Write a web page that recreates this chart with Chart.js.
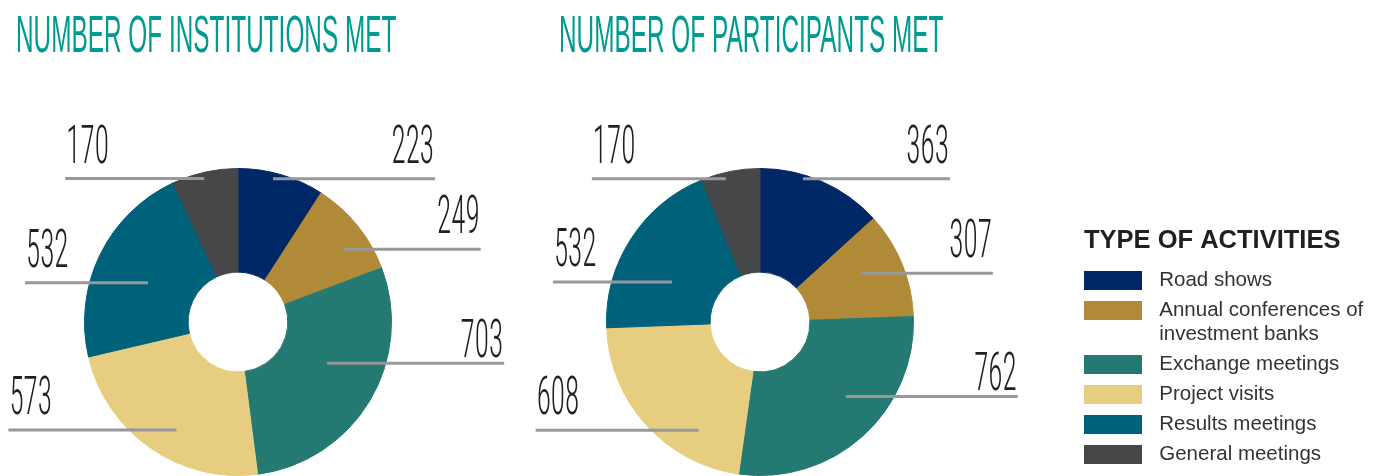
<!DOCTYPE html>
<html><head><meta charset="utf-8">
<script src="https://cdn.jsdelivr.net/npm/chart.js@4.4.1/dist/chart.umd.min.js"></script>
<style>
html,body{margin:0;padding:0;background:#fff;}
body{width:1384px;height:476px;position:relative;overflow:hidden;}
#c1{position:absolute;left:0;top:0;}
#c2{position:absolute;left:442px;top:0;}
</style></head><body>
<canvas id="c1" width="520" height="476"></canvas>
<canvas id="c2" width="942" height="476"></canvas>
<script>
// ---- data ----
const categories = ['Road shows', ['Annual conferences of', 'investment banks'], 'Exchange meetings', 'Project visits', 'Results meetings', 'General meetings'];
const institutionsMet = [223, 249, 703, 573, 532, 170];
const participantsMet = [363, 307, 762, 608, 532, 170];
const chartTitles = ['NUMBER OF INSTITUTIONS MET', 'NUMBER OF PARTICIPANTS MET'];
const legendTitle = 'TYPE OF ACTIVITIES';

// ---- styles ----
const sliceColors = ['#002866', '#b08a36', '#247a73', '#e6cd7f', '#00617a', '#464749'];
const condensedFamily = "'Liberation Sans Narrow', 'Liberation Sans', Arial, sans-serif";
const numberFamily = "'Roboto Condensed', Roboto, 'Liberation Sans Narrow', sans-serif";
const sansFamily = "'Liberation Sans', Arial, Helvetica, sans-serif";

// leader line layout: t = fraction of slice angle, r = fraction of radius, len = line length, dir = side, gap = text gap above line
const leftLeaders = [
  {t: 0.42, r: 0.96, len: 162, dir: 1, gap: 16},
  {t: 0.62, r: 0.836, len: 137, dir: 1, gap: 16},
  {t: 0.44, r: 0.64, len: 177, dir: 1, gap: 6},
  {t: 0.44, r: 0.81, len: 168, dir: -1, gap: 16},
  {t: 0.47, r: 0.64, len: 123, dir: -1, gap: 16},
  {t: 0.47, r: 0.96, len: 139, dir: -1, gap: 16}
];
const rightLeaders = [
  {t: 0.35, r: 0.975, len: 147, dir: 1, gap: 16},
  {t: 0.41, r: 0.73, len: 132, dir: 1, gap: 16},
  {t: 0.43, r: 0.74, len: 172, dir: 1, gap: 6.5},
  {t: 0.27, r: 0.81, len: 163, dir: -1, gap: 16},
  {t: 0.38, r: 0.63, len: 119, dir: -1, gap: 16},
  {t: 0.40, r: 0.96, len: 134, dir: -1, gap: 16}
];

// legend swatches: 58x19 colour block inside a 65px wide slot
const swatchW = 58, swatchSlot = 65, swatchH = 19;
function makeSwatch(color) {
  const c = document.createElement('canvas');
  c.width = swatchSlot; c.height = swatchH;
  const g = c.getContext('2d');
  g.fillStyle = color;
  g.fillRect(0, 0, swatchW, swatchH);
  return c;
}

const leaderPlugin = {
  id: 'leaders',
  afterDatasetsDraw(chart, args, opts) {
    const ctx = chart.ctx;
    const meta = chart.getDatasetMeta(0);
    const values = chart.data.datasets[0].data;
    ctx.save();
    ctx.font = opts.fontWeight + ' ' + opts.fontSize + 'px ' + numberFamily;
    const sx = opts.digitAdvance / ctx.measureText('0').width;
    meta.data.forEach((arc, i) => {
      const L = opts.layout[i];
      const p = arc.getProps(['x', 'y', 'startAngle', 'endAngle', 'outerRadius'], true);
      const a = p.startAngle + L.t * (p.endAngle - p.startAngle);
      const ax = p.x + Math.cos(a) * p.outerRadius * L.r;
      const ay = p.y + Math.sin(a) * p.outerRadius * L.r;
      const ex = ax + L.dir * L.len;
      ctx.strokeStyle = opts.lineColor;
      ctx.lineWidth = opts.lineWidth;
      ctx.lineCap = 'butt';
      ctx.beginPath();
      ctx.moveTo(ax, ay);
      ctx.lineTo(ex, ay);
      ctx.stroke();
      ctx.save();
      ctx.translate(ex - L.dir * 1, ay - L.gap);
      ctx.scale(sx, 1);
      ctx.textAlign = L.dir > 0 ? 'right' : 'left';
      ctx.textBaseline = 'alphabetic';
      ctx.fillStyle = opts.textColor;
      ctx.fillText(String(values[i]), 0, 0);
      ctx.restore();
    });
    ctx.restore();
  }
};

const titlePlugin = {
  id: 'condensedTitle',
  afterDraw(chart, args, opts) {
    const ctx = chart.ctx;
    ctx.save();
    ctx.font = opts.fontSize + 'px ' + condensedFamily;
    const sx = opts.scale * (0.456 * opts.fontSize) / ctx.measureText('0').width;
    ctx.translate(opts.x, opts.y);
    ctx.scale(sx, 1);
    ctx.fillStyle = opts.color;
    ctx.textAlign = 'left';
    ctx.textBaseline = 'alphabetic';
    ctx.fillText(opts.text, 0, 0);
    ctx.restore();
  }
};

const legendFixPlugin = {
  id: 'legendFix',
  beforeInit(chart, args, opts) {
    const lg = chart.legend;
    if (!lg || !opts.width) return;
    const origFit = lg.fit;
    lg.fit = function () { origFit.call(this); this.width = opts.width; };
    ['drawTitle', '_drawTitle'].forEach(name => {
      const orig = lg[name];
      if (typeof orig !== 'function') return;
      lg[name] = function () {
        this.ctx.save();
        this.ctx.translate(this.options.labels.padding, 0);
        orig.apply(this, arguments);
        this.ctx.restore();
      };
    });
  }
};

function makeChart(id, values, title, titleX, leaders, showLegend) {
  return new Chart(document.getElementById(id), {
    type: 'doughnut',
    data: {
      labels: categories,
      datasets: [{
        data: values,
        backgroundColor: sliceColors,
        borderColor: sliceColors,
        borderWidth: 1,
        hoverOffset: 0
      }]
    },
    options: {
      responsive: false,
      animation: false,
      events: [],
      cutout: '32.5%',
      layout: {padding: showLegend ? {top: 168, left: 0, right: 0, bottom: 0} : {top: 168, left: 0, right: 44, bottom: 0}},
      plugins: {
        tooltip: {enabled: false},
        title: {display: false},
        legend: showLegend ? {
          display: true,
          position: 'right',
          align: 'start',
          title: {
            display: true,
            text: legendTitle,
            position: 'start',
            color: '#231f20',
            font: {family: sansFamily, size: 25.5, weight: 'bold', lineHeight: '29px'},
            padding: {top: 60, bottom: 7}
          },
          labels: {
            usePointStyle: true,
            pointStyleWidth: swatchSlot,
            boxWidth: swatchSlot,
            boxHeight: swatchH,
            padding: 6,
            color: '#333333',
            font: {family: sansFamily, size: 20.5, lineHeight: '24px'},
            generateLabels(chart) {
              const items = Chart.overrides.doughnut.plugins.legend.labels.generateLabels(chart);
              return items.map((it, i) => Object.assign({}, it, {
                text: Array.isArray(it.text) ? it.text : [it.text],
                pointStyle: makeSwatch(sliceColors[i]),
                lineWidth: 0
              }));
            }
          }
        } : {display: false},
        legendFix: {width: showLegend ? 306 : 0},
        leaders: {layout: leaders, fontSize: 53, fontWeight: 300, digitAdvance: 14.2, lineColor: '#97989a', lineWidth: 3, textColor: '#231f20'},
        condensedTitle: {text: title, x: titleX, y: 52, fontSize: 52.6, scale: 0.565, color: '#009b90'}
      }
    },
    plugins: [legendFixPlugin, leaderPlugin, titlePlugin]
  });
}

makeChart('c1', institutionsMet, chartTitles[0], 16, leftLeaders, false);
makeChart('c2', participantsMet, chartTitles[1], 117, rightLeaders, true);
</script>
</body></html>
